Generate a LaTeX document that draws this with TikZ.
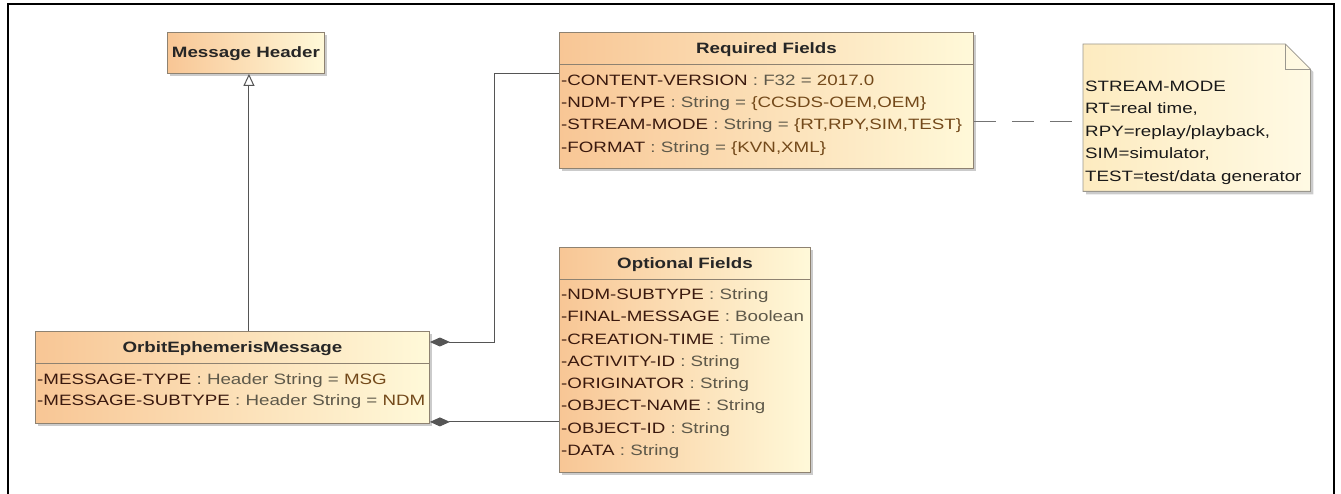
\documentclass[tikz,border=0pt]{standalone}
\usepackage{fontspec}
\setmainfont[FakeStretch=1.25]{Liberation Sans}
\usetikzlibrary{arrows.meta,calc,shadows}
\definecolor{umlorange}{HTML}{F8C695}
\definecolor{umlcream}{HTML}{FFF9D9}
\definecolor{umlborder}{HTML}{8E8271}
\definecolor{notewarm}{HTML}{FDEBC0}
\definecolor{notecream}{HTML}{FFFAE4}
\definecolor{noteedge}{HTML}{9A978E}
\definecolor{attrname}{HTML}{3A190E}
\definecolor{attrtype}{HTML}{5E594A}
\definecolor{attrval}{HTML}{73491A}
\definecolor{wire}{HTML}{555555}
\tikzset{
    classbox/.style={draw=umlborder, line width=0.9pt, left color=umlorange,
                     right color=umlcream, anchor=north west, inner sep=0pt,
                     drop shadow={shadow xshift=3pt, shadow yshift=-3pt,
                                  fill=black!45, opacity=0.45}},
    classtitle/.style={font=\fontsize{15}{18}\selectfont\bfseries,
                       text=black!85, anchor=base, inner sep=0pt},
    attr/.style={font=\fontsize{15}{18}\selectfont, anchor=base west, inner sep=0pt},
    divider/.style={draw=umlborder, line width=0.9pt},
    notebox/.style={anchor=north west, inner sep=0pt, minimum width=227pt,
                    minimum height=147pt},
    noteline/.style={draw=noteedge, line width=0.8pt},
    notetext/.style={font=\fontsize{15}{22.5}\selectfont, align=left,
                     anchor=base west, inner sep=0pt, text=black!90},
    compose/.style={{Diamond[length=20pt,width=9pt]}-, draw=wire, line width=1pt},
    generalize/.style={-{Triangle[open,length=12pt,width=11pt,fill=white]},
                       draw=wire, line width=1pt},
    notelink/.style={draw=black!55, line width=1pt, dash pattern=on 22pt off 16pt},
    frame/.style={draw=black, line width=2pt},
}
\newcommand{\attrfull}[3]{\textcolor{attrname}{#1}\textcolor{attrtype}{\ : #2 = }\textcolor{attrval}{#3}}
\newcommand{\attrpair}[2]{\textcolor{attrname}{#1}\textcolor{attrtype}{\ : #2}}

\begin{document}
\begin{tikzpicture}[x=1pt, y=-1pt]
    \useasboundingbox (0,0) rectangle (1341,494);
    \draw[frame] (8,494) -- (8,4) -- (1334,4) -- (1334,494);

    % class boxes
    \node[classbox, minimum width=157pt, minimum height=41pt] (mh) at (167,32) {};
    \node[classbox, minimum width=414pt, minimum height=136pt] (req) at (559,32) {};
    \node[classbox, minimum width=251pt, minimum height=225pt] (opt) at (559,247) {};
    \node[classbox, minimum width=394pt, minimum height=92pt] (oem) at (35,331) {};

    \node[classtitle] (mh-title) at ($(mh.north)+(0,25.4)$) {Message Header};
    \node[classtitle] (req-title) at ($(req.north)+(0,21.4)$) {Required Fields};
    \node[classtitle] (opt-title) at ($(opt.north)+(0,21.4)$) {Optional Fields};
    \node[classtitle] (oem-title) at ($(oem.north)+(0,21.4)$) {OrbitEphemerisMessage};

    \foreach \cls in {req, opt, oem}
        \draw[divider] ($(\cls.north west)+(0,32)$) -- ($(\cls.north east)+(0,32)$);

    % attributes
    \foreach \nm/\ty/\vl [count=\i] in {-CONTENT-VERSION/F32/2017.0,
            -NDM-TYPE/String/{\{CCSDS-OEM,OEM\}},
            -STREAM-MODE/String/{\{RT,RPY,SIM,TEST\}},
            -FORMAT/String/{\{KVN,XML\}}}
        \node[attr] (req-\i) at ($(req.north west)+(2,53.4+22.3*\i-22.3)$)
            {\attrfull{\nm}{\ty}{\vl}};
    \foreach \nm/\ty [count=\i] in {-NDM-SUBTYPE/String, -FINAL-MESSAGE/Boolean,
            -CREATION-TIME/Time, -ACTIVITY-ID/String, -ORIGINATOR/String,
            -OBJECT-NAME/String, -OBJECT-ID/String, -DATA/String}
        \node[attr] (opt-\i) at ($(opt.north west)+(2,52.4+22.3*\i-22.3)$)
            {\attrpair{\nm}{\ty}};
    \foreach \nm/\ty/\vl [count=\i] in {-MESSAGE-TYPE/Header String/MSG,
            -MESSAGE-SUBTYPE/Header String/NDM}
        \node[attr] (oem-\i) at ($(oem.north west)+(2,53.4+21*\i-21)$)
            {\attrfull{\nm}{\ty}{\vl}};

    % note
    \node[notebox] (note) at (1083,44) {};
    \draw[noteline, left color=notewarm, right color=notecream,
          drop shadow={shadow xshift=3pt, shadow yshift=-3pt, fill=black!45, opacity=0.45}]
        (note.north west) -- ([xshift=-25pt]note.north east)
        -- ([yshift=-25pt]note.north east) -- (note.south east)
        -- (note.south west) -- cycle;
    \draw[noteline] ([xshift=-25pt]note.north east)
        -- ([xshift=-25pt,yshift=-25pt]note.north east)
        -- ([yshift=-25pt]note.north east);
    \node[notetext] (note-text) at ($(note.north west)+(2,137.4)$)
        {STREAM-MODE\\RT=real time,\\RPY=replay/playback,\\SIM=simulator,\\TEST=test/data generator};

    % connectors
    \coordinate (mh-foot) at ([xshift=3pt]mh.south);
    \draw[generalize] (oem.north -| mh-foot) -- (mh-foot);
    \coordinate (oem-req) at ([yshift=-11pt]oem.north east);
    \coordinate (req-in) at ([yshift=-42pt]req.north west);
    \draw[compose] (oem-req) -| ($(oem-req)!0.5!(req-in)$) |- (req-in);
    \coordinate (oem-opt) at ([yshift=2pt]oem.south east);
    \draw[compose] (oem-opt) -- (oem-opt -| opt.west);
    \coordinate (note-in) at ([yshift=-3.5pt]note.west);
    \draw[notelink] (req.east |- note-in) -- (note-in);
\end{tikzpicture}
\end{document}
